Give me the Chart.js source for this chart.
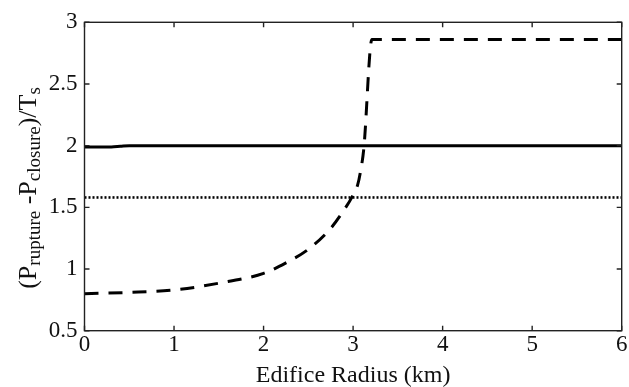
<!DOCTYPE html>
<html><head><meta charset="utf-8">
<script src="https://cdn.jsdelivr.net/npm/chart.js@4.4.0/dist/chart.umd.min.js"></script>
<style>html,body{margin:0;padding:0;background:#fff;}#wrap{width:629px;height:387px;}</style>
</head><body><div id="wrap"><canvas id="c" width="629" height="387"></canvas></div>
<script>
// ---- data ----
const dashedX = [0, 0.5, 1.0, 1.5, 2.0, 2.25, 2.5, 2.75, 2.9, 3.0, 3.05, 3.08, 3.12, 3.21, 6];
const dashedY = [0.80, 0.81, 0.83, 0.885, 0.965, 1.05, 1.16, 1.33, 1.48, 1.60, 1.68, 1.78, 1.98, 2.86, 2.86];
const solidX = [0, 0.3, 0.4, 0.5, 6];
const solidY = [1.99, 1.99, 1.995, 2.0, 2.0];
const dottedX = [0, 6];
const dottedY = [1.58, 1.58];
const xTickValues = [0, 1, 2, 3, 4, 5, 6];
const xTickLabels = ['0', '1', '2', '3', '4', '5', '6'];
const yTickValues = [0.5, 1, 1.5, 2, 2.5, 3];
const yTickLabels = ['0.5', '1', '1.5', '2', '2.5', '3'];
const xTitle = 'Edifice Radius (km)';
const yTitleParts = [['(P', false], ['rupture', true], [' -P', false], ['closure', true], [')/T', false], ['s', true]];

const pts = (xs, ys) => xs.map((x, i) => ({x: x, y: ys[i]}));
const SERIF = '"Liberation Serif", "Times New Roman", serif';

const framePlugin = {
  id: 'frame',
  afterDraw(chart) {
    const ctx = chart.ctx, a = chart.chartArea;
    const xs = chart.scales.x, ys = chart.scales.y;
    ctx.save();
    ctx.strokeStyle = '#222';
    ctx.lineWidth = 1.4;
    ctx.strokeRect(a.left, a.top, a.right - a.left, a.bottom - a.top);
    const tl = 5;
    ctx.beginPath();
    xTickValues.forEach(v => {
      const px = xs.getPixelForValue(v);
      ctx.moveTo(px, a.bottom); ctx.lineTo(px, a.bottom - tl);
      ctx.moveTo(px, a.top); ctx.lineTo(px, a.top + tl);
    });
    yTickValues.forEach(v => {
      const py = ys.getPixelForValue(v);
      ctx.moveTo(a.left, py); ctx.lineTo(a.left + tl, py);
      ctx.moveTo(a.right, py); ctx.lineTo(a.right - tl, py);
    });
    ctx.stroke();

    // titles
    ctx.fillStyle = '#111';
    ctx.font = '24px ' + SERIF;
    ctx.textAlign = 'center';
    ctx.textBaseline = 'alphabetic';
    ctx.fillText(xTitle, (a.left + a.right) / 2, 382);

    const F = 26, S = 19;
    ctx.textAlign = 'left';
    let total = 0;
    yTitleParts.forEach(p => { ctx.font = (p[1] ? S : F) + 'px ' + SERIF; total += ctx.measureText(p[0]).width; });
    ctx.translate(36, 188);
    ctx.rotate(-Math.PI / 2);
    let x = -total / 2;
    yTitleParts.forEach(p => {
      ctx.font = (p[1] ? S : F) + 'px ' + SERIF;
      ctx.fillText(p[0], x, p[1] ? 4 : 0);
      x += ctx.measureText(p[0]).width;
    });
    ctx.restore();
  }
};

new Chart(document.getElementById('c'), {
  type: 'line',
  data: {
    datasets: [
      {data: pts(dottedX, dottedY), borderColor: '#000', borderWidth: 2.6, borderDash: [2, 2], pointRadius: 0, fill: false},
      {data: pts(solidX, solidY), borderColor: '#000', borderWidth: 3, pointRadius: 0, fill: false, cubicInterpolationMode: 'monotone'},
      {data: pts(dashedX, dashedY), borderColor: '#000', borderWidth: 3, borderDash: [14, 10], pointRadius: 0, fill: false, cubicInterpolationMode: 'monotone'}
    ]
  },
  options: {
    responsive: false,
    animation: false,
    devicePixelRatio: 1,
    layout: {padding: {top: 22.3, right: 7.3, left: 0, bottom: 0}},
    plugins: {legend: {display: false}, tooltip: {enabled: false}},
    scales: {
      x: {
        type: 'linear', min: 0, max: 6,
        grid: {display: false, drawTicks: false}, border: {display: false},
        afterBuildTicks: s => { s.ticks = xTickValues.map(v => ({value: v})); },
        afterFit: s => { s.height = 56.3; },
        ticks: {color: '#111', padding: 0, maxRotation: 0, font: {family: SERIF, size: 23},
          callback: (v, i) => xTickLabels[i]}
      },
      y: {
        type: 'linear', min: 0.5, max: 3,
        grid: {display: false, drawTicks: false}, border: {display: false},
        afterBuildTicks: s => { s.ticks = yTickValues.map(v => ({value: v})); },
        afterFit: s => { s.width = 84.5; },
        ticks: {color: '#111', padding: 7, font: {family: SERIF, size: 23},
          callback: (v, i) => yTickLabels[i]}
      }
    }
  },
  plugins: [framePlugin]
});
</script></body></html>
